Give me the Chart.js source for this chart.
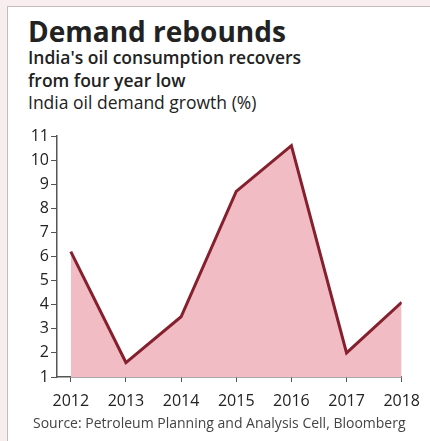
<!DOCTYPE html>
<html lang="en">
<head>
<meta charset="UTF-8">
<title>Demand rebounds</title>
<script src="https://cdn.jsdelivr.net/npm/chart.js"></script>
<style>
  html, body { margin: 0; padding: 0; }
  body { width: 430px; height: 441px; background: #f8eef0; position: relative; overflow: hidden; font-family: "Open Sans", "Noto Sans", sans-serif; }
  .panel { position: absolute; left: 7px; top: 6px; right: 0; bottom: 0; background: #fff; border-left: 1px solid #c4bcbe; border-top: 1px solid #c4bcbe; }
  .title { position: absolute; left: 28px; top: 12px; font-size: 28px; font-weight: 700; color: #222; white-space: nowrap; }
  .sub { position: absolute; left: 28px; font-size: 17.5px; color: #222; white-space: nowrap; }
  .source { position: absolute; left: 33px; top: 413px; font-size: 14px; color: #444; white-space: nowrap; }
  #wrap { position: absolute; left: 0; top: 115px; width: 430px; height: 300px; }
</style>
</head>
<body>
<div class="panel"></div>
<div class="title">Demand rebounds</div>
<div class="sub" style="top:45px;font-weight:600">India's oil consumption recovers</div>
<div class="sub" style="top:68px;font-weight:600">from four year low</div>
<div class="sub" style="top:90px">India oil demand growth (%)</div>
<div id="wrap"><canvas id="chart"></canvas></div>
<div class="source">Source: Petroleum Planning and Analysis Cell, Bloomberg</div>

<script>
const years = [2012, 2013, 2014, 2015, 2016, 2017, 2018];
const growth = [6.2, 1.6, 3.5, 8.7, 10.6, 2.0, 4.1];
const yTicks = [1, 2, 3, 4, 5, 6, 7, 8, 9, 10, 11];

const axisColor = '#555';
const textColor = '#222';

new Chart(document.getElementById('chart'), {
    type: 'line',
    data: {
        datasets: [{
            data: years.map((y, i) => ({ x: y, y: growth[i] })),
            borderColor: '#85202e',
            borderWidth: 3,
            backgroundColor: '#f2bcc4',
            fill: 'start',
            pointRadius: 0,
            tension: 0
        }]
    },
    options: {
        responsive: true,
        maintainAspectRatio: false,
        animation: false,
        layout: { padding: { left: 10, right: 22, top: 21, bottom: 8 } },
        plugins: { legend: { display: false }, tooltip: { enabled: false } },
        scales: {
            x: {
                type: 'linear',
                min: 2011.75,
                max: 2018,
                afterBuildTicks: s => { s.ticks = years.map(v => ({ value: v })); },
                afterFit: s => { s.height = 30; },
                border: { display: true, color: axisColor, width: 1.5 },
                grid: { drawOnChartArea: false, drawTicks: true, tickLength: 5, color: axisColor },
                ticks: {
                    color: textColor,
                    padding: 10,
                    maxRotation: 0,
                    font: { size: 16, family: '"Open Sans", "Noto Sans", sans-serif' },
                    callback: v => String(v)
                }
            },
            y: {
                min: 1,
                max: 11,
                afterBuildTicks: s => { s.ticks = yTicks.map(v => ({ value: v })); },
                afterFit: s => { s.width = 47; },
                border: { display: true, color: axisColor, width: 1.5 },
                grid: { drawOnChartArea: false, drawTicks: true, tickLength: 6, color: axisColor },
                ticks: {
                    color: textColor,
                    padding: 2,
                    font: { size: 16, family: '"Open Sans", "Noto Sans", sans-serif' }
                }
            }
        }
    }
});
</script>
</body>
</html>
